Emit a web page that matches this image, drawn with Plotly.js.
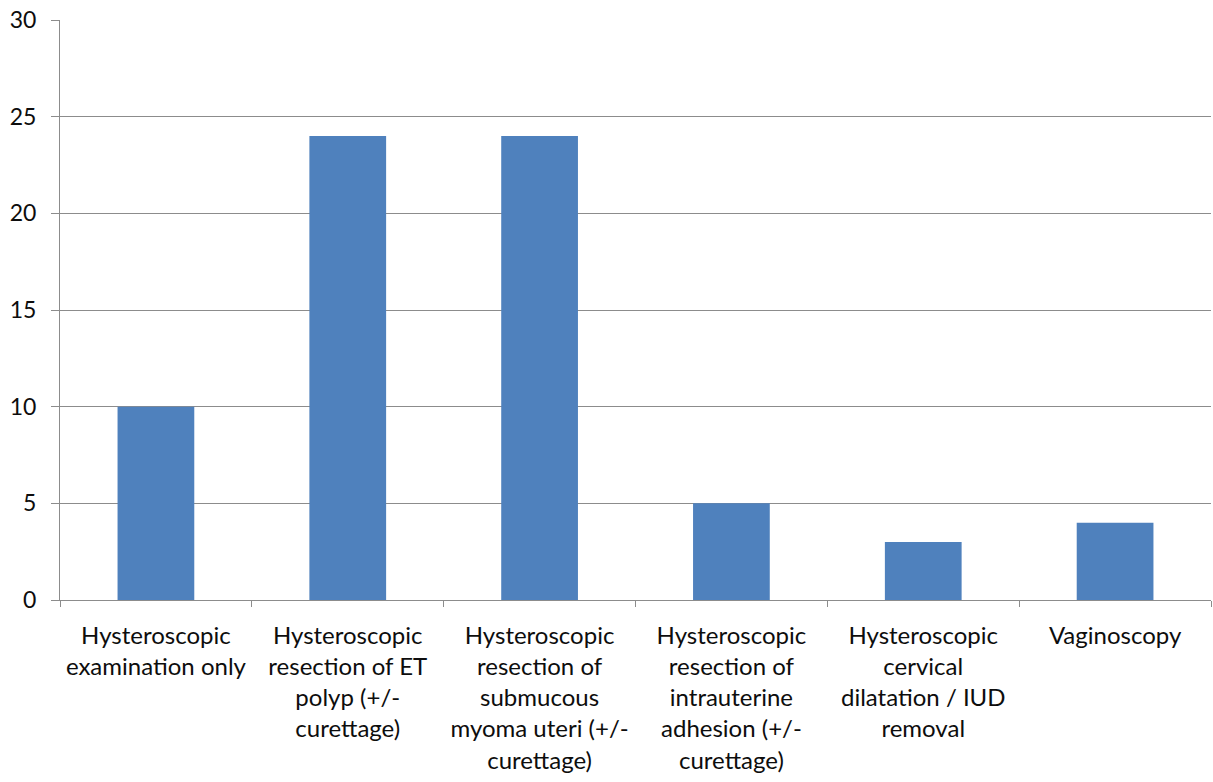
<!DOCTYPE html>
<html>
<head>
<meta charset="utf-8">
<script src="https://cdn.plot.ly/plotly-3.0.1.min.js"></script>
<style>html,body{margin:0;padding:0;background:#fff;}#chart{width:1213px;height:782px;}</style>
</head>
<body>
<div id="chart"></div>
<script>
const categories = [
  "Hysteroscopic<br>examination only",
  "Hysteroscopic<br>resection of ET<br>polyp (+/-<br>curettage)",
  "Hysteroscopic<br>resection of<br>submucous<br>myoma uteri (+/-<br>curettage)",
  "Hysteroscopic<br>resection of<br>intrauterine<br>adhesion (+/-<br>curettage)",
  "Hysteroscopic<br>cervical<br>dilatation / IUD<br>removal",
  "Vaginoscopy"
];
const values = [10, 24, 24, 5, 3, 4];
const yTicks = [0, 5, 10, 15, 20, 25, 30];

const trace = {
  type: 'bar',
  x: categories,
  y: values,
  marker: {color: '#4F81BD'},
  hoverinfo: 'none'
};

const layout = {
  width: 1213,
  height: 782,
  margin: {l: 60, r: 2, t: 20, b: 182},
  paper_bgcolor: '#ffffff',
  plot_bgcolor: '#ffffff',
  font: {family: 'Lato, "Open Sans", sans-serif', size: 21, color: '#0d0d0d'},
  bargap: 0.6,
  showlegend: false,
  xaxis: {
    type: 'category',
    showline: true,
    linecolor: '#8c8c8c',
    linewidth: 1,
    ticks: 'outside',
    tickson: 'boundaries',
    ticklen: 6,
    tickcolor: '#8c8c8c',
    showgrid: false,
    tickangle: 0,
    tickfont: {size: 24},
    ticklabelstandoff: 14,
    automargin: false
  },
  yaxis: {
    range: [0, 30],
    tickvals: yTicks,
    ticktext: yTicks.map(String),
    showline: true,
    linecolor: '#8c8c8c',
    linewidth: 1,
    ticks: 'outside',
    ticklen: 8,
    tickcolor: '#8c8c8c',
    showgrid: true,
    gridcolor: '#8c8c8c',
    gridwidth: 1,
    zeroline: false,
    tickfont: {size: 23},
    ticklabelstandoff: 10,
    automargin: false
  }
};

Plotly.newPlot('chart', [trace], layout, {displayModeBar: false, staticPlot: true});
</script>
</body>
</html>
